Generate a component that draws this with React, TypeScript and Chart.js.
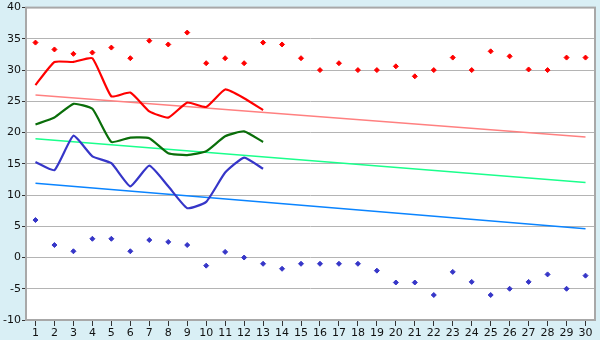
import React, { useEffect, useRef } from "react";
import { Chart, registerables } from "chart.js";

Chart.register(...registerables);

const days = ["1", "2", "3", "4", "5", "6", "7", "8", "9", "10", "11", "12", "13", "14", "15", "16", "17", "18", "19", "20", "21", "22", "23", "24", "25", "26", "27", "28", "29", "30"];

const maxTemps = [34.4, 33.3, 32.6, 32.8, 33.6, 31.9, 34.7, 34.1, 36.0, 31.1, 31.9, 31.1, 34.4, 34.1, 31.9, 30.0, 31.1, 30.0, 30.0, 30.6, 29.0, 30.0, 32.0, 30.0, 33.0, 32.2, 30.1, 30.0, 32.0, 32.0];
const minTemps = [6.0, 2.0, 1.0, 3.0, 3.0, 1.0, 2.8, 2.5, 2.0, -1.3, 0.9, 0.0, -1.0, -1.8, -1.0, -1.0, -1.0, -1.0, -2.1, -4.0, -4.0, -6.0, -2.3, -3.9, -6.0, -5.0, -3.9, -2.7, -5.0, -2.9];

const highLine = [27.6, 31.3, 31.3, 31.9, 25.8, 26.4, 23.4, 22.4, 24.8, 24.1, 26.9, 25.5, 23.6];
const meanLine = [21.3, 22.4, 24.6, 23.8, 18.5, 19.2, 19.1, 16.7, 16.4, 17.0, 19.4, 20.2, 18.5];
const lowLine = [15.3, 14.0, 19.5, 16.2, 15.1, 11.4, 14.7, 11.4, 7.9, 8.9, 13.6, 16.0, 14.2];

// trend lines: value on first day and on last day
const highTrend = [26.0, 19.3];
const meanTrend = [19.0, 12.0];
const lowTrend = [11.9, 4.6];

const ends = (pair: number[]) =>
  days.map((_, i) => (i === 0 ? pair[0] : i === days.length - 1 ? pair[1] : null));

const bgPlugin = {
  id: "bgPlugin",
  beforeDraw(chart: any) {
    const { ctx, chartArea: a, width, height } = chart;
    ctx.save();
    ctx.fillStyle = "#d9eff5";
    ctx.fillRect(0, 0, width, height);
    ctx.fillStyle = "#ffffff";
    ctx.fillRect(a.left, a.top, a.right - a.left, a.bottom - a.top);
    ctx.restore();
  },
  afterDraw(chart: any) {
    const { ctx, chartArea: a } = chart;
    ctx.save();
    ctx.strokeStyle = "#a8a8a8";
    ctx.lineWidth = 2;
    ctx.strokeRect(a.left, a.top, a.right - a.left, a.bottom - a.top);
    ctx.restore();
  },
};

export default function App() {
  const ref = useRef<HTMLCanvasElement | null>(null);

  useEffect(() => {
    if (!ref.current) return;
    const pointSet = (data: number[], color: string) => ({
      data,
      showLine: false,
      pointStyle: "rectRot" as const,
      pointRadius: 2.5,
      pointBorderWidth: 1,
      pointBackgroundColor: color,
      pointBorderColor: color,
      borderColor: color,
      backgroundColor: color,
    });
    const lineSet = (data: number[], color: string) => ({
      data,
      borderColor: color,
      backgroundColor: color,
      borderWidth: 2.2,
      pointRadius: 0,
      tension: 0.15,
    });
    const trendSet = (pair: number[], color: string) => ({
      data: ends(pair),
      borderColor: color,
      backgroundColor: color,
      borderWidth: 1.5,
      pointRadius: 0,
      spanGaps: true,
    });

    const chart = new Chart(ref.current, {
      type: "line",
      data: {
        labels: days,
        datasets: [
          pointSet(maxTemps, "#ff0000"),
          pointSet(minTemps, "#3636c8"),
          lineSet(highLine, "#ff0000"),
          lineSet(meanLine, "#0a6e0a"),
          lineSet(lowLine, "#3636c8"),
          trendSet(highTrend, "#ff8080"),
          trendSet(meanTrend, "#1aff8c"),
          trendSet(lowTrend, "#0a84ff"),
        ] as any,
      },
      options: {
        responsive: false,
        animation: false,
        layout: { padding: { top: 5, right: 5, left: 0, bottom: 0 } },
        plugins: { legend: { display: false }, tooltip: { enabled: false } },
        font: { family: "DejaVu Sans" } as any,
        scales: {
          x: {
            offset: true,
            grid: {
              drawOnChartArea: false,
              tickLength: 6,
              tickColor: "#333333",
              offset: false,
            },
            border: { display: false },
            ticks: {
              maxRotation: 0,
              autoSkip: false,
              padding: 1,
              color: "#111111",
              font: { family: "DejaVu Sans", size: 11 },
            },
            afterFit(scale: any) {
              scale.height = 20;
            },
          },
          y: {
            min: -10,
            max: 40,
            grid: {
              color: "#b4b4b4",
              lineWidth: 1,
              tickLength: 4,
              tickColor: "#333333",
            },
            border: { display: false },
            ticks: {
              stepSize: 5,
              padding: 1,
              color: "#111111",
              font: { family: "DejaVu Sans", size: 11 },
            },
            afterFit(scale: any) {
              scale.width = 26;
            },
          },
        },
      },
      plugins: [bgPlugin],
    });
    return () => chart.destroy();
  }, []);

  return (
    <div style={{ position: "absolute", left: 0, top: 0, width: 600, height: 340 }}>
      <canvas ref={ref} width={600} height={340} style={{ display: "block" }} />
    </div>
  );
}
